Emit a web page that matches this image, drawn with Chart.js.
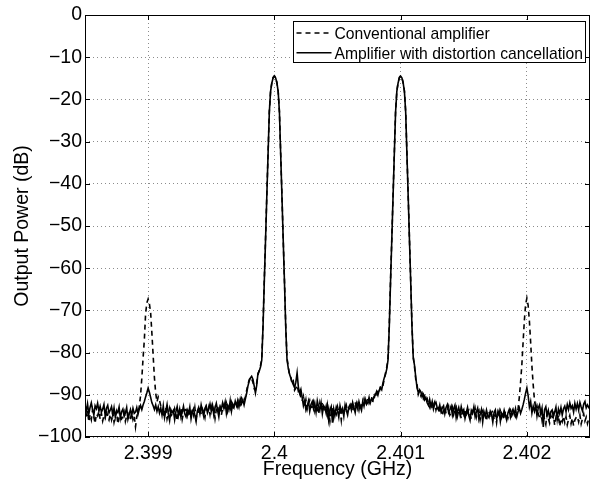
<!DOCTYPE html>
<html>
<head>
<meta charset="utf-8">
<title>Output power spectrum</title>
<script src="https://cdn.jsdelivr.net/npm/chart.js@4.4.1/dist/chart.umd.min.js"></script>
<style>
  html, body { margin: 0; padding: 0; background: #fff; }
  canvas { display: block; }
</style>
</head>
<body>
<canvas id="spectrum" width="598" height="483"></canvas>
<script>
////
///////////////////// Data /////////////////////
////

// frequency of each sample, kHz away from 2.4 GHz
const freqOffsetKHz = [
    -1500, -1490, -1480, -1470, -1460, -1450, -1440, -1430, -1420, -1410,
    -1400, -1390, -1380, -1370, -1360, -1350, -1340, -1330, -1320, -1310,
    -1300, -1290, -1280, -1270, -1260, -1250, -1240, -1230, -1220, -1210,
    -1200, -1190, -1180, -1170, -1160, -1150, -1140, -1130, -1120, -1110,
    -1100, -1090, -1080, -1070, -1060, -1050, -1040, -1030, -1020, -1010,
    -1000, -990, -980, -970, -960, -950, -940, -930, -920, -910,
    -900, -890, -880, -870, -860, -850, -840, -830, -820, -810,
    -800, -790, -780, -770, -760, -750, -740, -730, -720, -710,
    -700, -690, -680, -670, -660, -650, -640, -630, -620, -610,
    -600, -590, -580, -570, -560, -550, -540, -530, -520, -510,
    -500, -490, -480, -470, -460, -450, -440, -430, -420, -410,
    -400, -390, -380, -370, -360, -350, -340, -330, -320, -310,
    -300, -290, -280, -270, -260, -250, -240, -230, -220, -210,
    -200, -190, -180, -170, -160, -150, -140, -130, -120, -110,
    -100, -90, -80, -70, -60, -50, -40, -30, -20, -10,
    0, 10, 20, 30, 40, 50, 60, 70, 80, 90,
    100, 110, 120, 130, 140, 150, 160, 170, 180, 190,
    200, 210, 220, 230, 240, 250, 260, 270, 280, 290,
    300, 310, 320, 330, 340, 350, 360, 370, 380, 390,
    400, 410, 420, 430, 440, 450, 460, 470, 480, 490,
    500, 510, 520, 530, 540, 550, 560, 570, 580, 590,
    600, 610, 620, 630, 640, 650, 660, 670, 680, 690,
    700, 710, 720, 730, 740, 750, 760, 770, 780, 790,
    800, 810, 820, 830, 840, 850, 860, 870, 880, 890,
    900, 910, 920, 930, 940, 950, 960, 970, 980, 990,
    1000, 1010, 1020, 1030, 1040, 1050, 1060, 1070, 1080, 1090,
    1100, 1110, 1120, 1130, 1140, 1150, 1160, 1170, 1180, 1190,
    1200, 1210, 1220, 1230, 1240, 1250, 1260, 1270, 1280, 1290,
    1300, 1310, 1320, 1330, 1340, 1350, 1360, 1370, 1380, 1390,
    1400, 1410, 1420, 1430, 1440, 1450, 1460, 1470, 1480, 1490,
    1500, 1510, 1520, 1530, 1540, 1550, 1560, 1570, 1580, 1590,
    1600, 1610, 1620, 1630, 1640, 1650, 1660, 1670, 1680, 1690,
    1700, 1710, 1720, 1730, 1740, 1750, 1760, 1770, 1780, 1790,
    1800, 1810, 1820, 1830, 1840, 1850, 1860, 1870, 1880, 1890,
    1900, 1910, 1920, 1930, 1940, 1950, 1960, 1970, 1980, 1990,
    2000, 2010, 2020, 2030, 2040, 2050, 2060, 2070, 2080, 2090,
    2100, 2110, 2120, 2130, 2140, 2150, 2160, 2170, 2180, 2190,
    2200, 2210, 2220, 2230, 2240, 2250, 2260, 2270, 2280, 2290,
    2300, 2310, 2320, 2330, 2340, 2350, 2360, 2370, 2380, 2390,
    2400, 2410, 2420, 2430, 2440, 2450, 2460, 2470, 2480, 2490,
    2500
];

// conventional amplifier (dashed), dB
const conventionalDb = [
    -94.1, -95.6, -93.8, -96.4, -94.7, -95.9, -93.6, -95.2, -96.8, -94.5,
    -95.0, -93.9, -95.8, -94.4, -96.2, -94.9, -95.5, -93.7, -95.3, -96.0,
    -94.6, -95.9, -94.2, -96.5, -95.1, -94.0, -96.9, -95.4, -94.8, -95.7,
    -95.2, -94.1, -96.3, -95.0, -94.5, -96.1, -95.6, -94.3, -95.9, -95.0,
    -97.6, -95.2, -94.1, -92.8, -90.2, -86.1, -81.3, -77.0, -70.8, -68.2,
    -67.3, -68.4, -70.6, -75.5, -80.8, -86.0, -89.6, -91.7, -90.5, -91.3,
    -92.6, -93.9, -95.3, -94.1, -93.0, -95.7, -94.4, -93.2, -95.0, -94.6,
    -94.8, -93.3, -94.6, -96.2, -93.9, -94.5, -93.1, -95.8, -94.3, -93.6,
    -93.5, -94.9, -93.2, -94.6, -95.1, -93.4, -94.8, -93.0, -95.5, -94.2,
    -94.1, -92.8, -94.6, -93.3, -94.0, -95.4, -93.1, -94.2, -92.9, -94.7,
    -92.7, -94.0, -93.2, -95.6, -93.5, -92.6, -94.1, -93.0, -94.8, -93.3,
    -92.4, -93.7, -92.1, -94.0, -92.8, -93.4, -91.9, -93.6, -92.5, -91.8,
    -91.9, -92.9, -91.5, -92.3, -90.9, -92.0, -91.4, -90.5, -89.0, -87.6,
    -86.5, -85.8, -86.2, -87.0, -88.6, -88.9, -87.2, -85.3, -84.2, -83.1,
    -81.5, -73.6, -63.0, -53.1, -42.8, -32.8, -22.9, -18.0, -16.0, -14.8,
    -14.4, -14.8, -16.0, -18.0, -22.9, -32.8, -42.8, -53.1, -63.0, -73.6,
    -81.3, -83.3, -85.4, -85.7, -87.4, -86.8, -88.9, -88.4, -87.7, -89.2,
    -88.8, -90.9, -91.5, -90.4, -92.8, -91.2, -93.4, -92.1, -91.3, -93.0,
    -92.9, -91.7, -93.8, -92.3, -93.1, -94.6, -92.0, -93.5, -91.8, -93.2,
    -94.0, -92.7, -94.9, -93.4, -96.3, -94.2, -93.1, -95.5, -93.8, -94.6,
    -92.8, -94.1, -93.5, -96.0, -93.0, -94.3, -93.7, -92.5, -94.0, -93.4,
    -93.1, -92.0, -93.9, -92.5, -91.7, -93.4, -92.2, -93.6, -91.9, -92.7,
    -92.2, -91.0, -92.5, -91.6, -90.8, -92.0, -91.2, -90.5, -91.7, -90.9,
    -89.6, -90.3, -89.0, -89.5, -88.0, -87.6, -87.9, -86.3, -84.9, -83.5,
    -81.5, -73.6, -63.0, -53.1, -42.8, -32.8, -22.9, -18.0, -16.0, -14.8,
    -14.4, -14.8, -16.0, -18.0, -22.9, -32.8, -42.8, -53.1, -63.0, -73.6,
    -81.0, -83.4, -86.4, -87.6, -89.9, -89.1, -90.2, -89.6, -90.9, -90.3,
    -91.4, -90.9, -92.0, -92.9, -91.5, -93.2, -92.4, -91.7, -93.6, -92.5,
    -92.8, -94.1, -93.3, -95.0, -93.7, -92.9, -94.4, -93.6, -92.7, -94.8,
    -94.3, -93.0, -94.7, -93.5, -92.9, -95.1, -93.8, -94.2, -95.6, -93.4,
    -94.6, -93.4, -95.3, -94.0, -93.6, -94.8, -95.7, -93.9, -94.5, -93.2,
    -95.3, -94.0, -93.6, -95.9, -94.4, -93.8, -95.0, -94.7, -96.2, -94.1,
    -94.0, -95.5, -94.3, -93.7, -95.9, -94.6, -96.6, -94.1, -95.2, -93.9,
    -95.3, -94.0, -95.8, -93.9, -94.7, -95.5, -94.2, -93.6, -95.0, -94.3,
    -93.8, -95.1, -94.2, -93.4, -90.6, -87.1, -83.0, -77.6, -72.4, -68.6,
    -67.1, -68.8, -72.5, -77.6, -83.2, -87.6, -91.2, -93.4, -92.6, -94.5,
    -95.3, -93.8, -96.0, -94.6, -95.8, -97.0, -94.4, -95.6, -96.7, -94.9,
    -95.9, -94.7, -97.2, -95.4, -96.3, -94.8, -97.5, -95.6, -96.4, -95.1,
    -96.6, -95.2, -97.1, -95.8, -94.9, -96.8, -95.5, -97.3, -96.0, -95.4,
    -95.1, -96.4, -94.8, -96.9, -95.7, -94.5, -96.2, -95.3, -96.8, -95.6,
    -95.8
];

// amplifier with distortion cancellation (solid), dB
const cancelledDb = [
    -92.4, -93.8, -92.1, -94.6, -93.0, -91.9, -93.5, -94.8, -92.6, -93.3,
    -92.0, -93.9, -92.7, -94.1, -93.4, -92.3, -95.0, -93.2, -92.5, -94.3,
    -93.6, -92.8, -94.9, -93.1, -95.3, -93.8, -94.2, -92.9, -95.6, -94.0,
    -93.4, -95.1, -94.3, -93.0, -95.8, -94.6, -93.5, -94.9, -93.2, -94.4,
    -94.1, -93.0, -94.6, -93.4, -92.5, -93.5, -92.4, -91.6, -90.5, -89.5,
    -88.4, -89.4, -90.6, -91.9, -92.6, -93.5, -92.4, -93.9, -92.8, -94.3,
    -93.1, -94.8, -92.6, -95.4, -93.9, -92.3, -94.6, -96.1, -93.5, -94.2,
    -93.7, -95.9, -94.0, -92.8, -94.9, -93.4, -95.3, -94.1, -92.7, -94.5,
    -95.2, -93.6, -94.4, -92.9, -95.7, -94.0, -93.3, -94.8, -96.3, -93.8,
    -93.0, -94.5, -92.4, -93.8, -95.1, -93.2, -92.6, -94.3, -93.5, -92.2,
    -93.9, -92.5, -94.7, -93.1, -92.0, -93.6, -95.2, -92.8, -93.4, -91.9,
    -93.2, -91.7, -94.4, -92.6, -93.5, -91.4, -93.9, -92.2, -93.0, -91.5,
    -92.6, -91.3, -92.8, -91.0, -92.1, -91.2, -92.4, -91.0, -89.7, -88.0,
    -86.8, -86.0, -85.6, -86.3, -87.9, -89.6, -87.8, -84.9, -84.4, -83.4,
    -81.8, -74.0, -63.3, -53.3, -43.0, -33.0, -23.0, -18.1, -16.1, -14.9,
    -14.5, -14.9, -16.1, -18.1, -23.0, -33.0, -43.0, -53.3, -63.3, -74.0,
    -81.6, -83.7, -85.1, -86.0, -86.9, -87.6, -88.3, -87.0, -84.8, -88.1,
    -89.6, -88.7, -90.6, -92.6, -91.4, -93.6, -92.7, -91.5, -93.9, -92.3,
    -91.6, -93.3, -92.0, -94.1, -91.4, -92.8, -93.7, -91.9, -94.5, -92.6,
    -93.1, -94.4, -92.5, -95.9, -93.6, -92.8, -96.6, -93.3, -94.7, -92.9,
    -93.8, -95.3, -92.6, -94.0, -93.2, -95.1, -92.4, -93.7, -94.8, -92.9,
    -92.3, -93.6, -91.8, -93.0, -94.2, -92.1, -93.3, -91.6, -92.8, -93.7,
    -91.5, -92.7, -91.1, -92.3, -91.8, -90.6, -91.9, -90.9, -91.4, -90.3,
    -90.0, -89.2, -90.1, -88.9, -88.3, -88.8, -87.2, -86.0, -85.2, -83.9,
    -81.8, -74.0, -63.3, -53.3, -43.0, -33.0, -23.0, -18.1, -16.1, -14.9,
    -14.5, -14.9, -16.1, -18.1, -23.0, -33.0, -43.0, -53.3, -63.3, -74.0,
    -81.2, -83.0, -85.9, -88.3, -89.5, -88.8, -89.3, -90.5, -89.9, -91.2,
    -90.7, -91.9, -92.5, -91.1, -92.8, -91.6, -93.4, -92.2, -91.8, -93.1,
    -93.6, -92.4, -94.0, -93.1, -92.6, -94.5, -93.0, -92.3, -94.2, -93.5,
    -92.7, -94.8, -93.3, -92.5, -95.4, -93.9, -93.0, -94.6, -92.8, -94.1,
    -93.5, -95.6, -94.2, -93.0, -94.9, -96.0, -93.7, -94.4, -92.9, -95.2,
    -94.1, -93.2, -95.8, -94.6, -93.5, -96.4, -94.0, -95.1, -93.6, -94.9,
    -95.4, -93.9, -94.6, -96.5, -94.2, -93.6, -95.7, -94.9, -93.8, -96.3,
    -94.4, -95.1, -93.7, -94.9, -96.0, -94.3, -93.5, -95.3, -94.1, -93.4,
    -94.6, -93.3, -95.2, -94.0, -93.1, -94.4, -93.5, -92.4, -91.1, -89.6,
    -88.4, -90.2, -92.9, -91.6, -94.3, -92.7, -93.9, -92.5, -95.0, -93.1,
    -92.4, -94.6, -93.2, -97.6, -93.5, -92.8, -94.9, -93.7, -95.4, -94.0,
    -93.6, -95.2, -94.1, -92.9, -95.8, -93.4, -94.5, -93.0, -94.8, -93.3,
    -92.7, -94.0, -92.3, -93.5, -91.9, -93.2, -92.6, -94.1, -92.0, -93.4,
    -92.1, -93.6, -91.8, -92.9, -93.8, -92.2, -91.6, -93.1, -92.4, -93.0,
    -92.6
];

const xTickValues = [2.399, 2.4, 2.401, 2.402];
const xTickLabels = ["2.399", "2.4", "2.401", "2.402"];
const yTickValues = [-100, -90, -80, -70, -60, -50, -40, -30, -20, -10, 0];
const yTickLabels = ["\u2212100", "\u221290", "\u221280", "\u221270", "\u221260", "\u221250",
                     "\u221240", "\u221230", "\u221220", "\u221210", "0"];

////
///////////////////// Chart /////////////////////
////

const fontFamily = '"Liberation Sans", Arial, Helvetica, sans-serif';

const toPoints = values => freqOffsetKHz.map((k, i) => ({ x: 2.4 + k / 1e6, y: values[i] }));

// matlab style box, inward ticks and the legend inside the axes
const boxPlugin = {
    id: 'matlabBox',
    afterDraw(chart) {
        const ctx = chart.ctx;
        const a = chart.chartArea;
        const xs = chart.scales.x;
        const ys = chart.scales.y;
        ctx.save();
        ctx.strokeStyle = '#000';
        ctx.lineWidth = 1;
        ctx.setLineDash([]);
        ctx.strokeRect(a.left + 0.5, a.top + 0.5, a.right - a.left - 1, a.bottom - a.top - 1);

        ctx.beginPath();
        yTickValues.forEach(v => {
            const py = Math.round(ys.getPixelForValue(v)) + 0.5;
            ctx.moveTo(a.left, py); ctx.lineTo(a.left + 5, py);
            ctx.moveTo(a.right, py); ctx.lineTo(a.right - 5, py);
        });
        xTickValues.forEach(v => {
            const px = Math.round(xs.getPixelForValue(v)) + 0.5;
            ctx.moveTo(px, a.bottom); ctx.lineTo(px, a.bottom - 5);
            ctx.moveTo(px, a.top); ctx.lineTo(px, a.top + 5);
        });
        ctx.stroke();

        // legend
        ctx.font = '15.7px ' + fontFamily;
        const sets = chart.data.datasets;
        const textW = Math.max(...sets.map(d => ctx.measureText(d.label).width));
        const right = Math.round(a.right - 5) + 0.5;
        const left = Math.round(right - textW - 44) + 0.5;
        const top = a.top + 6.5;
        const h = 41;
        ctx.fillStyle = '#fff';
        ctx.fillRect(left, top, right - left, h);
        ctx.lineWidth = 1;
        ctx.strokeRect(left, top, right - left, h);
        ctx.fillStyle = '#000';
        ctx.textBaseline = 'alphabetic';
        sets.forEach((d, i) => {
            const base = top + 17.5 + i * 19.8;
            ctx.beginPath();
            ctx.lineWidth = d.borderWidth;
            ctx.setLineDash(d.borderDash || []);
            ctx.moveTo(left + 3, base - 6);
            ctx.lineTo(left + 38, base - 6);
            ctx.stroke();
            ctx.setLineDash([]);
            ctx.fillText(d.label, left + 41, base);
        });
        ctx.restore();
    }
};

const axisText = { family: fontFamily, size: 19.5 };

const spectrumChart = new Chart(document.getElementById('spectrum'), {
    type: 'line',
    data: {
        datasets: [{
            label: 'Conventional amplifier',
            data: toPoints(conventionalDb),
            borderColor: '#000',
            borderWidth: 1.6,
            borderDash: [5, 4],
            pointRadius: 0,
            tension: 0,
            order: 1
        }, {
            label: 'Amplifier with distortion cancellation',
            data: toPoints(cancelledDb),
            borderColor: '#000',
            borderWidth: 1.6,
            pointRadius: 0,
            tension: 0,
            order: 0
        }]
    },
    options: {
        responsive: false,
        animation: false,
        devicePixelRatio: 1,
        layout: { padding: { left: 0, right: 8, top: 15, bottom: 0 } },
        plugins: {
            legend: { display: false },
            tooltip: { enabled: false }
        },
        scales: {
            x: {
                type: 'linear',
                min: 2.3985,
                max: 2.4025,
                afterBuildTicks: s => { s.ticks = xTickValues.map(v => ({ value: v })); },
                afterFit: s => { s.height = 46; },
                grid: { color: '#8c8c8c', lineWidth: 1, drawTicks: false },
                border: { display: false, dash: [1, 3] },
                ticks: {
                    color: '#000',
                    font: axisText,
                    padding: 4.5,
                    maxRotation: 0,
                    autoSkip: false,
                    callback: (v, i) => xTickLabels[i]
                },
                title: {
                    display: true,
                    text: 'Frequency (GHz)',
                    color: '#000',
                    font: axisText,
                    padding: { top: 0, bottom: 2 }
                }
            },
            y: {
                min: -100,
                max: 0,
                afterBuildTicks: s => { s.ticks = yTickValues.map(v => ({ value: v })); },
                afterFit: s => { s.width = 85; },
                grid: { color: '#8c8c8c', lineWidth: 1, drawTicks: false },
                border: { display: false, dash: [1, 3] },
                ticks: {
                    color: '#000',
                    font: axisText,
                    padding: 3,
                    autoSkip: false,
                    callback: (v, i) => yTickLabels[i]
                },
                title: {
                    display: true,
                    text: 'Output Power (dB)',
                    color: '#000',
                    font: axisText,
                    padding: { top: 10.7, bottom: 0 }
                }
            }
        }
    },
    plugins: [boxPlugin]
});
</script>
</body>
</html>
